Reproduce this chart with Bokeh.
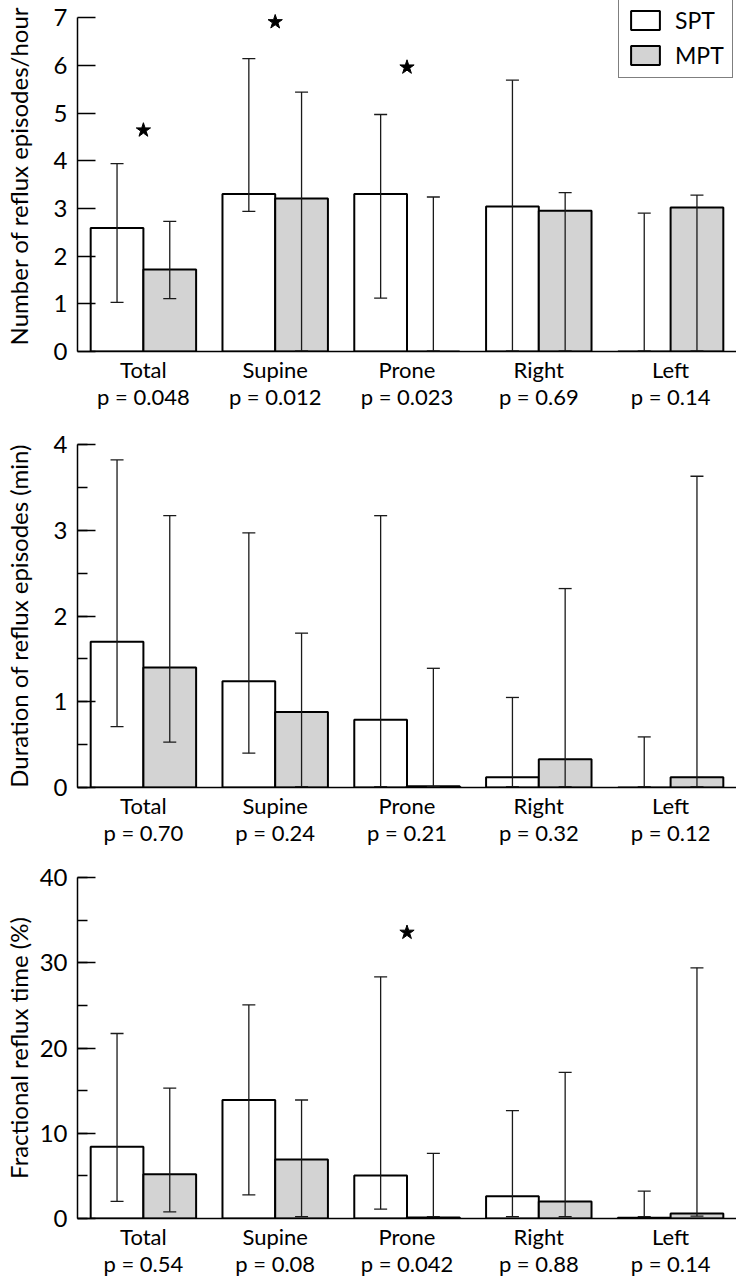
from bokeh.plotting import figure
from bokeh.models import (ColumnDataSource, FactorRange, Range1d, Whisker, TeeHead,
                          SingleIntervalTicker, Legend, LegendItem, CategoricalAxis)
from bokeh.transform import dodge
from bokeh.layouts import column
from bokeh.embed import file_html
from bokeh.resources import INLINE

categories = ["Total", "Supine", "Prone", "Right", "Left"]

# Panel 1: number of reflux episodes/hour
ep_p = ["p = 0.048", "p = 0.012", "p = 0.023", "p = 0.69", "p = 0.14"]
ep_spt = [2.59, 3.30, 3.30, 3.04, 0.0]
ep_spt_lo = [1.03, 2.94, 1.12, 0.01, 0.01]
ep_spt_hi = [3.94, 6.14, 4.97, 5.69, 2.90]
ep_mpt = [1.72, 3.21, 0.0, 2.95, 3.02]
ep_mpt_lo = [1.11, 0.01, 0.01, 0.01, 0.01]
ep_mpt_hi = [2.73, 5.44, 3.24, 3.33, 3.28]
ep_star_cats = ["Total", "Supine", "Prone"]
ep_star_y = [4.64, 6.91, 5.96]

# Panel 2: duration of reflux episodes (min)
du_p = ["p = 0.70", "p = 0.24", "p = 0.21", "p = 0.32", "p = 0.12"]
du_spt = [1.70, 1.24, 0.79, 0.12, 0.0]
du_spt_lo = [0.71, 0.40, 0.01, 0.01, 0.01]
du_spt_hi = [3.82, 2.97, 3.17, 1.05, 0.59]
du_mpt = [1.40, 0.88, 0.015, 0.33, 0.12]
du_mpt_lo = [0.53, 0.01, 0.01, 0.01, 0.01]
du_mpt_hi = [3.17, 1.80, 1.39, 2.32, 3.63]

# Panel 3: fractional reflux time (%)
fr_p = ["p = 0.54", "p = 0.08", "p = 0.042", "p = 0.88", "p = 0.14"]
fr_spt = [8.43, 13.9, 5.05, 2.60, 0.08]
fr_spt_lo = [2.02, 2.76, 1.09, 0.23, 0.23]
fr_spt_hi = [21.7, 25.05, 28.35, 12.66, 3.22]
fr_mpt = [5.20, 6.91, 0.12, 1.98, 0.58]
fr_mpt_lo = [0.78, 0.23, 0.23, 0.23, 0.27]
fr_mpt_hi = [15.3, 13.9, 7.65, 17.13, 29.4]
fr_star_cats = ["Prone"]
fr_star_y = [33.55]

FONT = "Lato"
GRAY = "#d3d3d3"
INK = "#1a1a1a"


def make_panel(ylabel, pvals, spt, spt_lo, spt_hi, mpt, mpt_lo, mpt_hi,
               y_end, axis_top, interval, minor, height, btop, bbottom,
               lab_standoff, star_cats=None, star_y=None, legend=False):
    p = figure(x_range=FactorRange(*categories), y_range=Range1d(0, y_end),
               width=736, height=height, output_backend="svg",
               toolbar_location=None, min_border_left=77, min_border_right=0,
               min_border_top=btop, min_border_bottom=bbottom)
    p.extra_x_ranges = {"pv": FactorRange(*pvals)}
    src = ColumnDataSource(dict(cat=categories, spt=spt, spt_lo=spt_lo, spt_hi=spt_hi,
                                mpt=mpt, mpt_lo=mpt_lo, mpt_hi=mpt_hi))
    r1 = p.vbar(x=dodge("cat", -0.2, range=p.x_range), top="spt", width=0.4,
                fill_color="white", line_color="black", line_width=2, source=src)
    r2 = p.vbar(x=dodge("cat", 0.2, range=p.x_range), top="mpt", width=0.4,
                fill_color=GRAY, line_color="black", line_width=2, source=src)
    for off, lo, hi in ((-0.2, "spt_lo", "spt_hi"), (0.2, "mpt_lo", "mpt_hi")):
        w = Whisker(base=dodge("cat", off, range=p.x_range), lower=lo, upper=hi,
                    source=src, line_color=INK, line_width=1.3, level="annotation",
                    upper_head=TeeHead(size=13, line_width=1.3, line_color=INK),
                    lower_head=TeeHead(size=13, line_width=1.3, line_color=INK))
        p.add_layout(w)
    if star_cats:
        p.scatter(x=star_cats, y=star_y, marker="star", size=15, color="black")

    ya = p.yaxis[0]
    ya.ticker = SingleIntervalTicker(interval=interval, num_minor_ticks=minor if minor else 0)
    ya.bounds = (0, axis_top)
    ya.major_tick_in = 18
    ya.major_tick_out = 0
    ya.minor_tick_in = 10
    ya.minor_tick_out = 0
    ya.axis_line_width = 1.5
    ya.axis_line_color = "black"
    ya.major_tick_line_color = "black"
    ya.major_tick_line_width = 1.5
    ya.minor_tick_line_color = "black" if minor else None
    ya.minor_tick_line_width = 1.5
    ya.major_label_text_font = FONT
    ya.major_label_text_font_size = "24px"
    ya.major_label_text_color = "black"
    ya.major_label_standoff = 10
    ya.axis_label = ylabel
    ya.axis_label_text_font = FONT
    ya.axis_label_text_font_size = "24px"
    ya.axis_label_text_font_style = "normal"
    ya.axis_label_text_color = "black"
    ya.axis_label_standoff = lab_standoff

    xa = p.xaxis[0]
    xa.major_tick_line_color = None
    xa.minor_tick_line_color = None
    xa.major_tick_in = 0
    xa.major_tick_out = 0
    xa.minor_tick_in = 0
    xa.minor_tick_out = 0
    xa.axis_line_width = 1.5
    xa.axis_line_color = "black"
    xa.major_label_text_font = FONT
    xa.major_label_text_font_size = "22px"
    xa.major_label_text_color = "black"
    xa.major_label_standoff = 4

    xp = CategoricalAxis(x_range_name="pv",
                         axis_line_color=None, major_tick_line_color=None,
                         minor_tick_line_color=None, major_tick_in=0, major_tick_out=0,
                         minor_tick_in=0, minor_tick_out=0,
                         major_label_text_font=FONT, major_label_text_font_size="22px",
                         major_label_text_color="black", major_label_standoff=-3)
    p.add_layout(xp, "below")

    p.xgrid.grid_line_color = None
    p.ygrid.grid_line_color = None
    p.outline_line_color = None
    p.background_fill_color = "white"
    p.border_fill_color = "white"

    if legend:
        lg = Legend(items=[LegendItem(label="SPT", renderers=[r1]),
                           LegendItem(label="MPT", renderers=[r2])],
                    location=(541, 273), glyph_width=36, glyph_height=24,
                    label_text_font=FONT, label_text_font_size="23px",
                    label_text_color="black", label_height=24,
                    border_line_color="black", border_line_width=1.5,
                    padding=8, spacing=7, margin=0, label_standoff=12)
        p.add_layout(lg)
    return p


p1 = make_panel("Number of reflux episodes/hour", ep_p, ep_spt, ep_spt_lo, ep_spt_hi,
                ep_mpt, ep_mpt_lo, ep_mpt_hi, 7.36, 7, 1, 0, 420, 0, 69, 18,
                ep_star_cats, ep_star_y, legend=True)
p2 = make_panel("Duration of reflux episodes (min)", du_p, du_spt, du_spt_lo, du_spt_hi,
                du_mpt, du_mpt_lo, du_mpt_hi, 4, 4, 1, 2, 435, 24, 68, 18)
p3 = make_panel("Fractional reflux time (%)", fr_p, fr_spt, fr_spt_lo, fr_spt_hi,
                fr_mpt, fr_mpt_lo, fr_mpt_hi, 40, 40, 10, 2, 424, 22, 61, 4,
                fr_star_cats, fr_star_y)

layout = column(p1, p2, p3)
open("out.html", "w").write(file_html(layout, INLINE))
